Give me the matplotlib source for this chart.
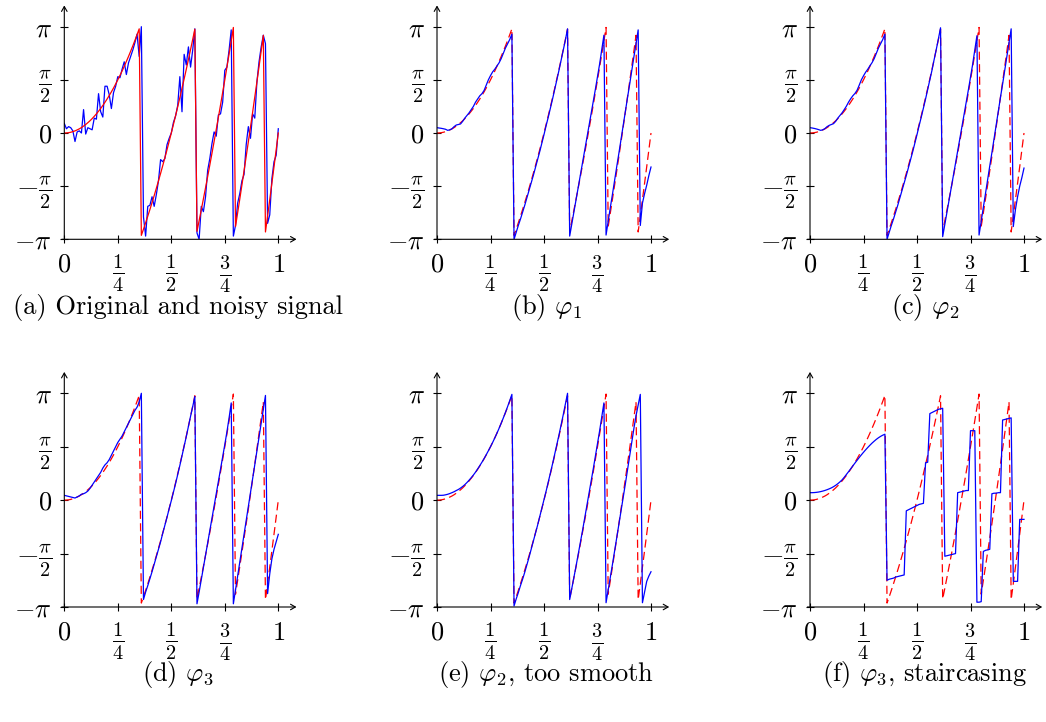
import numpy as np
import matplotlib
matplotlib.use("Agg")
import matplotlib.pyplot as plt

plt.rcParams['mathtext.fontset'] = 'cm'
plt.rcParams['font.family'] = ['cmr10', 'DejaVu Serif']
plt.rcParams['axes.unicode_minus'] = False
plt.rcParams['axes.formatter.use_mathtext'] = True

# sample grid (101 samples on [0, 1])
t = np.arange(101) / 100

# values in units of pi
original = [
    0.000, 0.001, 0.003, 0.007, 0.013, 0.020, 0.029, 0.039, 0.051, 0.065,
    0.080, 0.097, 0.115, 0.135, 0.157, 0.180, 0.205, 0.231, 0.259, 0.289,
    0.320, 0.353, 0.387, 0.423, 0.461, 0.500, 0.541, 0.583, 0.627, 0.673,
    0.720, 0.769, 0.819, 0.871, 0.925, 0.980, -0.963, -0.905, -0.845, -0.783,
    -0.720, -0.655, -0.589, -0.521, -0.451, -0.380, -0.307, -0.233, -0.157, -0.079,
    0.000, 0.081, 0.163, 0.247, 0.333, 0.420, 0.509, 0.599, 0.691, 0.785,
    0.880, 0.977, -0.925, -0.825, -0.723, -0.620, -0.515, -0.409, -0.301, -0.191,
    -0.080, 0.033, 0.147, 0.263, 0.381, 0.500, 0.621, 0.743, 0.867, 0.993,
    -0.880, -0.751, -0.621, -0.489, -0.355, -0.220, -0.083, 0.055, 0.195, 0.337,
    0.480, 0.625, 0.771, 0.919, -0.931, -0.780, -0.627, -0.473, -0.317, -0.159,
    0.000]

noisy = [
    0.09, 0.04, 0.06, 0.05, 0.02, -0.08, 0.01, 0.02, 0.00, 0.22,
    -0.01, 0.05, 0.04, 0.03, 0.14, 0.13, 0.37, 0.20, 0.15, 0.44,
    0.44, 0.36, 0.23, 0.38, 0.44, 0.53, 0.52, 0.60, 0.67, 0.55,
    0.66, 0.72, 0.78, 0.85, 0.93, 0.72, 1.00, -0.79, -0.97, -0.69,
    -0.68, -0.60, -0.69, -0.58, -0.45, -0.25, -0.27, -0.24, -0.11, -0.05,
    0.00, 0.10, 0.16, 0.26, 0.53, 0.20, 0.74, 0.64, 0.81, 0.62,
    0.78, 0.98, -0.94, -1.00, -0.69, -0.74, -0.60, -0.35, -0.24, -0.10,
    0.01, -0.03, 0.17, 0.18, 0.29, 0.59, 0.62, 0.78, 0.97, -0.97,
    -0.87, -0.66, -0.57, -0.45, -0.39, -0.11, 0.06, -0.05, 0.18, 0.14,
    0.48, 0.67, 0.81, 0.92, 0.84, -0.85, -0.77, -0.43, -0.27, -0.21,
    0.04]

phi1 = [
    0.050, 0.047, 0.044, 0.040, 0.035, 0.025, 0.030, 0.040, 0.060, 0.075,
    0.080, 0.085, 0.110, 0.140, 0.165, 0.190, 0.220, 0.250, 0.290, 0.320,
    0.350, 0.370, 0.400, 0.450, 0.500, 0.540, 0.575, 0.600, 0.630, 0.660,
    0.700, 0.750, 0.800, 0.840, 0.880, 0.930, -1.000, -0.935, -0.870, -0.810,
    -0.745, -0.680, -0.610, -0.540, -0.470, -0.400, -0.325, -0.250, -0.175, -0.095,
    -0.015, 0.070, 0.150, 0.235, 0.320, 0.410, 0.500, 0.590, 0.685, 0.780,
    0.875, 0.980, -0.970, -0.855, -0.740, -0.625, -0.510, -0.395, -0.280, -0.165,
    -0.050, 0.065, 0.180, 0.295, 0.410, 0.530, 0.650, 0.785, 0.920, -0.960,
    -0.830, -0.700, -0.575, -0.445, -0.315, -0.190, -0.060, 0.070, 0.200, 0.330,
    0.455, 0.585, 0.715, 0.840, 0.970, -0.870, -0.660, -0.570, -0.490, -0.400,
    -0.320]

phi2 = [
    0.050, 0.047, 0.043, 0.038, 0.032, 0.025, 0.030, 0.042, 0.060, 0.072,
    0.080, 0.088, 0.110, 0.140, 0.165, 0.190, 0.220, 0.252, 0.290, 0.322,
    0.350, 0.372, 0.402, 0.450, 0.500, 0.538, 0.572, 0.600, 0.632, 0.662,
    0.700, 0.750, 0.800, 0.840, 0.880, 0.930, -1.000, -0.935, -0.870, -0.810,
    -0.745, -0.680, -0.610, -0.540, -0.470, -0.400, -0.325, -0.250, -0.175, -0.095,
    -0.015, 0.070, 0.150, 0.235, 0.320, 0.410, 0.500, 0.590, 0.690, 0.785,
    0.885, 0.990, -0.975, -0.860, -0.745, -0.630, -0.515, -0.400, -0.285, -0.170,
    -0.055, 0.060, 0.175, 0.290, 0.405, 0.525, 0.645, 0.780, 0.915, -0.960,
    -0.830, -0.700, -0.570, -0.440, -0.310, -0.185, -0.055, 0.075, 0.205, 0.335,
    0.460, 0.590, 0.720, 0.850, 0.980, -0.880, -0.720, -0.600, -0.500, -0.420,
    -0.330]

phi3 = [
    0.045, 0.040, 0.035, 0.030, 0.025, 0.020, 0.030, 0.040, 0.055, 0.060,
    0.070, 0.085, 0.110, 0.140, 0.170, 0.200, 0.230, 0.260, 0.300, 0.330,
    0.350, 0.380, 0.420, 0.460, 0.500, 0.540, 0.570, 0.600, 0.640, 0.680,
    0.720, 0.760, 0.800, 0.840, 0.870, 0.920, 1.000, -0.930, -0.860, -0.800,
    -0.735, -0.670, -0.600, -0.530, -0.460, -0.390, -0.310, -0.235, -0.160, -0.080,
    -0.005, 0.075, 0.155, 0.240, 0.325, 0.415, 0.505, 0.595, 0.690, 0.785,
    0.875, 0.970, -0.970, -0.860, -0.745, -0.630, -0.515, -0.400, -0.285, -0.170,
    -0.055, 0.060, 0.175, 0.290, 0.405, 0.520, 0.640, 0.770, 0.910, -0.970,
    -0.840, -0.710, -0.580, -0.450, -0.320, -0.190, -0.060, 0.070, 0.200, 0.330,
    0.460, 0.590, 0.720, 0.850, 0.980, -0.875, -0.690, -0.550, -0.460, -0.390,
    -0.320]

phi2_smooth = [
    0.045, 0.045, 0.045, 0.046, 0.050, 0.055, 0.062, 0.070, 0.079, 0.090,
    0.100, 0.113, 0.128, 0.145, 0.165, 0.187, 0.210, 0.235, 0.262, 0.292,
    0.323, 0.355, 0.389, 0.425, 0.462, 0.500, 0.540, 0.582, 0.626, 0.672,
    0.720, 0.770, 0.822, 0.876, 0.932, 0.990, -0.990, -0.925, -0.865, -0.800,
    -0.740, -0.675, -0.605, -0.535, -0.460, -0.385, -0.310, -0.235, -0.155, -0.075,
    0.005, 0.085, 0.170, 0.255, 0.340, 0.430, 0.520, 0.610, 0.705, 0.800,
    0.900, 1.000, -0.930, -0.825, -0.720, -0.615, -0.505, -0.395, -0.285, -0.170,
    -0.055, 0.060, 0.175, 0.290, 0.410, 0.530, 0.650, 0.780, 0.910, -0.960,
    -0.840, -0.720, -0.600, -0.475, -0.350, -0.225, -0.100, 0.025, 0.150, 0.280,
    0.410, 0.540, 0.670, 0.790, 0.890, 0.990, -0.960, -0.860, -0.760, -0.710,
    -0.670]

phi3_stair = [
    0.070, 0.070, 0.071, 0.073, 0.076, 0.080, 0.085, 0.091, 0.098, 0.106,
    0.115, 0.126, 0.139, 0.154, 0.171, 0.190, 0.214, 0.240, 0.266, 0.293,
    0.320, 0.347, 0.373, 0.399, 0.424, 0.448, 0.471, 0.493, 0.514, 0.534,
    0.552, 0.569, 0.584, 0.597, 0.608, 0.617, -0.750, -0.740, -0.735, -0.730,
    -0.720, -0.715, -0.710, -0.705, -0.700, -0.100, -0.090, -0.080, -0.070, -0.060,
    -0.050, -0.040, -0.035, -0.030, 0.350, 0.355, 0.810, 0.820, 0.830, 0.840,
    0.850, 0.855, 0.860, -0.525, -0.520, -0.515, -0.510, -0.505, -0.500, 0.070,
    0.075, 0.080, 0.085, 0.090, 0.090, 0.650, 0.650, 0.650, -0.955, -0.955,
    -0.950, -0.480, -0.470, -0.465, -0.460, 0.060, 0.065, 0.065, 0.070, 0.070,
    0.750, 0.755, 0.760, 0.765, 0.770, -0.760, -0.760, -0.760, -0.180, -0.180,
    -0.180]

x_ticks = [0, 0.25, 0.5, 0.75, 1]
x_ticklabels = [r'$0$', r'$\frac{1}{4}$', r'$\frac{1}{2}$', r'$\frac{3}{4}$', r'$1$']
y_ticks = [-1, -0.5, 0, 0.5, 1]
y_ticklabels = [r'$-\pi$', r'$-\frac{\pi}{2}$', r'$0$', r'$\frac{\pi}{2}$', r'$\pi$']

captions = [r'(a) Original and noisy signal', r'(b) $\varphi_1$', r'(c) $\varphi_2$',
            r'(d) $\varphi_3$', r'(e) $\varphi_2$, too smooth', r'(f) $\varphi_3$, staircasing']
blues = [noisy, phi1, phi2, phi3, phi2_smooth, phi3_stair]

W, H = 1046, 722
fig = plt.figure(figsize=(W / 100, H / 100), dpi=100)

XMAX = 1.085
YMIN, YMAX = -1.0, 1.2
col_x0 = [64.3, 437.0, 810.0]
row_ybot = [239.3, 607.0]       # pixel row of -pi
row_ppi = [106.3, 106.85]       # pixels per pi
cap_x = [178, 546, 925]
cap_y = [308, 675]
xunit = 214.0

FS = 19
FS_FRAC = 21

for i in range(6):
    r, c = divmod(i, 3)
    left = col_x0[c]
    width = XMAX * xunit
    bottom_px = row_ybot[r]
    height = (YMAX - YMIN) * row_ppi[r]
    ax = fig.add_axes([left / W, 1 - bottom_px / H, width / W, height / H])
    ax.set_xlim(0, XMAX)
    ax.set_ylim(YMIN, YMAX)
    for s in ax.spines.values():
        s.set_visible(False)
    ax.patch.set_visible(False)

    if i == 0:
        ax.plot(t, blues[i], color='blue', lw=0.9, zorder=2)
        ax.plot(t, original, color='red', lw=0.9, zorder=3)
    else:
        ax.plot(t, original, color='red', lw=0.9, dashes=(6.5, 3.5), zorder=2)
        ax.plot(t, blues[i], color='blue', lw=0.9, zorder=3)

    # axes arrows
    ax.annotate('', xy=(XMAX, YMIN), xytext=(-0.012, YMIN), xycoords='data',
                arrowprops=dict(arrowstyle='->,head_length=0.35,head_width=0.2',
                                lw=0.8, color='black', shrinkA=0, shrinkB=0),
                annotation_clip=False)
    ax.annotate('', xy=(0, YMAX), xytext=(0, YMIN), xycoords='data',
                arrowprops=dict(arrowstyle='->,head_length=0.35,head_width=0.2',
                                lw=0.8, color='black', shrinkA=0, shrinkB=0),
                annotation_clip=False)

    ax.tick_params(direction='inout', length=6, width=0.8, labelsize=FS)
    ax.tick_params(axis='x', pad=7)
    ax.tick_params(axis='y', pad=6)
    ax.set_xticks(x_ticks)
    xl = ax.set_xticklabels(x_ticklabels)
    ax.set_yticks(y_ticks)
    yl = ax.set_yticklabels(y_ticklabels)
    for lbl in list(xl) + list(yl):
        if 'frac' in lbl.get_text():
            lbl.set_fontsize(FS_FRAC)

    fig.text(cap_x[c] / W, 1 - cap_y[r] / H, captions[i], ha='center', va='center',
             fontsize=FS)

fig.savefig('out.png', dpi=100)
